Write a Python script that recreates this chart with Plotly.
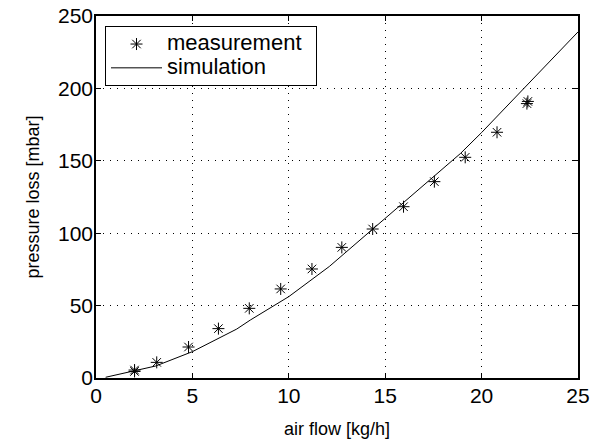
import plotly.graph_objects as go

# measurement data
meas_x = [2.0, 2.0, 3.15, 4.8, 6.35, 7.95, 9.58, 11.2, 12.75, 14.35, 15.95, 17.55, 19.15, 20.8, 22.35, 22.4]
meas_y = [4.5, 5.5, 10.8, 21.4, 34.1, 48.1, 61.5, 75.3, 90.2, 102.9, 118.3, 135.6, 152.4, 169.7, 189.5, 191.0]

# simulation curve
sim_x = [0.5, 1.5, 3.1, 5.0, 7.3, 8.0, 10.0, 12.1, 14.2, 16.7, 18.9, 20.0, 22.5, 25.0]
sim_y = [0.5, 3.6, 8.3, 18.2, 33.8, 40.0, 56.2, 77.0, 101.0, 130.0, 155.0, 169.5, 204.0, 239.0]

x_ticks = [0, 5, 10, 15, 20, 25]
y_ticks = [0, 50, 100, 150, 200, 250]

FONT = "Liberation Sans, Arial, Helvetica, sans-serif"
PAD = '&nbsp;<span style="font-size:11px">&nbsp;</span>'

fig = go.Figure()
fig.add_trace(go.Scatter(
    x=meas_x, y=meas_y, mode="markers",
    name='<span style="font-size:22px">measurement' + PAD + '</span>',
    marker=dict(symbol="asterisk-open", size=10, color="black",
                line=dict(color="black", width=1)),
))
fig.add_trace(go.Scatter(
    x=sim_x, y=sim_y, mode="lines",
    name='<span style="font-size:22px">simulation</span>',
    line=dict(color="black", width=1),
))

axis_common = dict(
    showline=True, linecolor="black", linewidth=1.5, mirror="ticks",
    ticks="inside", ticklen=5, tickcolor="black", tickwidth=1,
    showgrid=True, gridcolor="black", gridwidth=1, griddash="1px,6px",
    zeroline=False, automargin=False,
    tickfont=dict(family=FONT, size=21, color="black"),
)

fig.update_xaxes(range=[0, 25], tickvals=x_ticks, ticktext=[str(v) for v in x_ticks],
                 ticklabelstandoff=-2,
                 title=dict(text="air flow [kg/h]", font=dict(family=FONT, size=18, color="black"),
                            standoff=16),
                 **axis_common)
fig.update_yaxes(range=[0, 250], tickvals=y_ticks, ticktext=[str(v) for v in y_ticks],
                 ticklabelstandoff=-3,
                 title=dict(text="pressure loss [mbar]", font=dict(family=FONT, size=18, color="black"),
                            standoff=14),
                 **axis_common)

fig.update_layout(
    width=602, height=443,
    margin=dict(l=96, r=24, t=16, b=65, autoexpand=False),
    paper_bgcolor="white", plot_bgcolor="white",
    font=dict(family=FONT, color="black"),
    legend=dict(x=0.0187, y=0.972, xanchor="left", yanchor="top",
                bgcolor="white", bordercolor="black", borderwidth=1,
                font=dict(family=FONT, size=16, color="black"),
                itemwidth=51, tracegroupgap=0),
    showlegend=True,
)

fig.write_html("out.html", config={"displayModeBar": False},
               post_script="document.body.style.margin='0';")
